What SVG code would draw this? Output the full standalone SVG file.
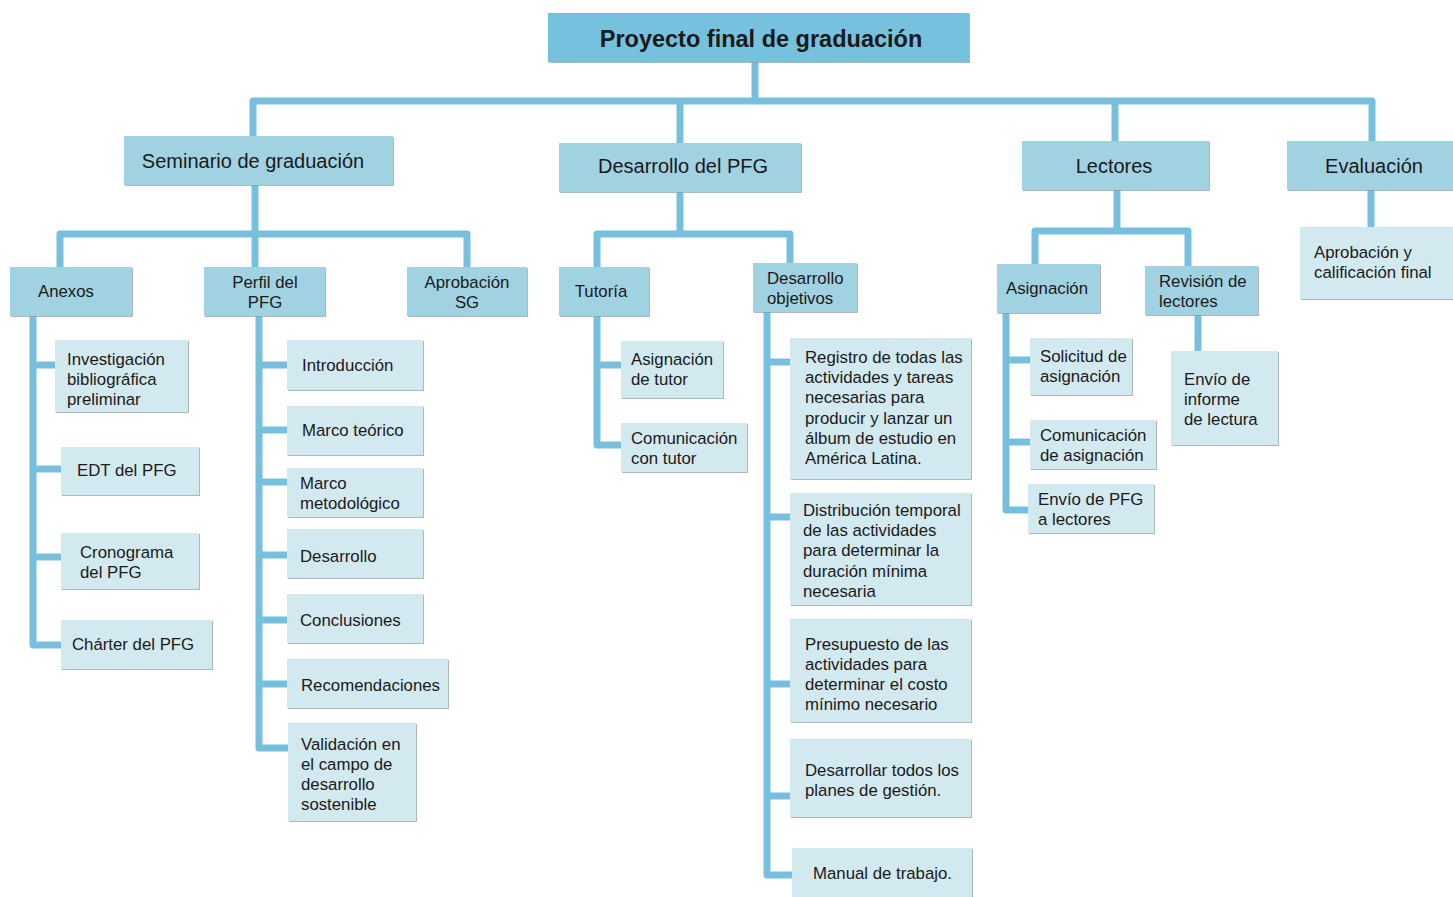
<svg xmlns="http://www.w3.org/2000/svg" width="1453" height="897" viewBox="0 0 1453 897">
  <defs>
    <filter id="shadow" x="-5%" y="-5%" width="115%" height="115%">
      <feDropShadow dx="1" dy="1" stdDeviation="0.6" flood-color="#8a9aa0" flood-opacity="0.7"/>
    </filter>
    <style>
      .root { fill: #76c1de; filter: url(#shadow); }
      .mid { fill: #a1d2e2; filter: url(#shadow); }
      .leaf { fill: #d2e9ef; filter: url(#shadow); }
      text { font-family: "Liberation Sans", Arial, sans-serif; fill: #1a1a1a; }
      .t0 { font-size: 23.5px; font-weight: bold; text-anchor: middle; }
      .t1 { font-size: 20px; text-anchor: middle; }
      .t2 { font-size: 16.8px; }
      .c { text-anchor: middle; }
      .wire { fill: none; stroke: #76c0de; stroke-width: 7; stroke-linejoin: round; stroke-linecap: butt; }
    </style>
  </defs>
  <rect width="1453" height="897" fill="#ffffff"/>

  <!-- connectors -->
  <g id="connectors" class="wire">
    <path d="M755,62 V101"/>
    <path d="M253,136 V101 H1372 V141"/>
    <path d="M680,101 V143"/>
    <path d="M1115,101 V141"/>

    <path d="M255,185 V267"/>
    <path d="M60,267 V234 H467 V267"/>
    <path d="M33,316 V645 H61"/>
    <path d="M33,365 H55 M33,469 H61 M33,557 H61"/>
    <path d="M259,316 V748 H288"/>
    <path d="M259,365 H287 M259,430 H287 M259,482 H287 M259,555 H287 M259,620 H287 M259,684 H287"/>

    <path d="M680,192 V234"/>
    <path d="M597,267 V234 H790 V263"/>
    <path d="M597,316 V445 H621"/>
    <path d="M597,365 H621"/>
    <path d="M767,312 V875 H792"/>
    <path d="M767,362 H790 M767,517 H790 M767,684 H790 M767,796 H790"/>

    <path d="M1117,190 V231"/>
    <path d="M1035,264 V231 H1188 V266"/>
    <path d="M1006,313 V510 H1028"/>
    <path d="M1006,360 H1030 M1006,442 H1030"/>
    <path d="M1198,315 V351"/>
    <path d="M1371,190 V227"/>
  </g>

  <!-- top level -->
  <g id="n-root"><rect class="root" x="548" y="13" width="421" height="49"/><text class="t0" x="761" y="47">Proyecto final de graduación</text></g>

  <!-- second level -->
  <g id="n-seminario"><rect class="mid" x="124" y="136" width="269" height="49"/><text class="t1" x="253" y="168">Seminario de graduación</text></g>
  <g id="n-desarrollo-pfg"><rect class="mid" x="559" y="143" width="242" height="49"/><text class="t1" x="683" y="173">Desarrollo del PFG</text></g>
  <g id="n-lectores"><rect class="mid" x="1022" y="141" width="187" height="49"/><text class="t1" x="1114" y="173">Lectores</text></g>
  <g id="n-evaluacion"><rect class="mid" x="1287" y="141" width="170" height="49"/><text class="t1" x="1374" y="173">Evaluación</text></g>

  <!-- Seminario de graduación -->
  <g id="n-anexos"><rect class="mid" x="10" y="267" width="122" height="49"/><text class="t2 c" x="66" y="297">Anexos</text></g>
  <g id="n-perfil"><rect class="mid" x="204" y="267" width="121" height="49"/><text class="t2 c" x="265" y="288">Perfil del</text><text class="t2 c" x="265" y="308">PFG</text></g>
  <g id="n-aprobacion-sg"><rect class="mid" x="407" y="267" width="120" height="49"/><text class="t2 c" x="467" y="288">Aprobación</text><text class="t2 c" x="467" y="308">SG</text></g>

  <g id="n-investigacion"><rect class="leaf" x="55" y="340" width="133" height="72"/><text class="t2" x="67" y="365">Investigación</text><text class="t2" x="67" y="385">bibliográfica</text><text class="t2" x="67" y="405">preliminar</text></g>
  <g id="n-edt"><rect class="leaf" x="61" y="447" width="138" height="48"/><text class="t2" x="77" y="476">EDT del PFG</text></g>
  <g id="n-cronograma"><rect class="leaf" x="61" y="533" width="138" height="56"/><text class="t2" x="80" y="558">Cronograma</text><text class="t2" x="80" y="578">del PFG</text></g>
  <g id="n-charter"><rect class="leaf" x="61" y="620" width="151" height="49"/><text class="t2" x="72" y="650">Chárter del PFG</text></g>

  <g id="n-introduccion"><rect class="leaf" x="287" y="340" width="136" height="50"/><text class="t2" x="302" y="371">Introducción</text></g>
  <g id="n-marco-teorico"><rect class="leaf" x="287" y="406" width="136" height="49"/><text class="t2" x="302" y="436">Marco teórico</text></g>
  <g id="n-marco-metodologico"><rect class="leaf" x="287" y="468" width="136" height="49"/><text class="t2" x="300" y="489">Marco</text><text class="t2" x="300" y="509">metodológico</text></g>
  <g id="n-desarrollo"><rect class="leaf" x="287" y="529" width="136" height="49"/><text class="t2" x="300" y="562">Desarrollo</text></g>
  <g id="n-conclusiones"><rect class="leaf" x="287" y="594" width="136" height="49"/><text class="t2" x="300" y="626">Conclusiones</text></g>
  <g id="n-recomendaciones"><rect class="leaf" x="287" y="659" width="161" height="49"/><text class="t2" x="301" y="691">Recomendaciones</text></g>
  <g id="n-validacion"><rect class="leaf" x="288" y="723" width="128" height="98"/><text class="t2" x="301" y="750">Validación en</text><text class="t2" x="301" y="770">el campo de</text><text class="t2" x="301" y="790">desarrollo</text><text class="t2" x="301" y="810">sostenible</text></g>

  <!-- Desarrollo del PFG -->
  <g id="n-tutoria"><rect class="mid" x="559" y="267" width="90" height="49"/><text class="t2 c" x="601" y="297">Tutoría</text></g>
  <g id="n-desarrollo-objetivos"><rect class="mid" x="753" y="263" width="104" height="49"/><text class="t2" x="767" y="284">Desarrollo</text><text class="t2" x="767" y="304">objetivos</text></g>

  <g id="n-asignacion-tutor"><rect class="leaf" x="621" y="341" width="102" height="57"/><text class="t2" x="631" y="365">Asignación</text><text class="t2" x="631" y="385">de tutor</text></g>
  <g id="n-comunicacion-tutor"><rect class="leaf" x="621" y="423" width="126" height="49"/><text class="t2" x="631" y="444">Comunicación</text><text class="t2" x="631" y="464">con tutor</text></g>

  <g id="n-registro"><rect class="leaf" x="790" y="338" width="181" height="141"/><text class="t2" x="805" y="363">Registro de todas las</text><text class="t2" x="805" y="383">actividades y tareas</text><text class="t2" x="805" y="403">necesarias para</text><text class="t2" x="805" y="424">producir y lanzar un</text><text class="t2" x="805" y="444">álbum de estudio en</text><text class="t2" x="805" y="464">América Latina.</text></g>
  <g id="n-distribucion"><rect class="leaf" x="790" y="493" width="181" height="112"/><text class="t2" x="803" y="516">Distribución temporal</text><text class="t2" x="803" y="536">de las actividades</text><text class="t2" x="803" y="556">para determinar la</text><text class="t2" x="803" y="577">duración mínima</text><text class="t2" x="803" y="597">necesaria</text></g>
  <g id="n-presupuesto"><rect class="leaf" x="790" y="619" width="181" height="103"/><text class="t2" x="805" y="650">Presupuesto de las</text><text class="t2" x="805" y="670">actividades para</text><text class="t2" x="805" y="690">determinar el costo</text><text class="t2" x="805" y="710">mínimo necesario</text></g>
  <g id="n-planes"><rect class="leaf" x="790" y="739" width="181" height="78"/><text class="t2" x="805" y="776">Desarrollar todos los</text><text class="t2" x="805" y="796">planes de gestión.</text></g>
  <g id="n-manual"><rect class="leaf" x="792" y="848" width="180" height="49"/><text class="t2" x="813" y="879">Manual de trabajo.</text></g>

  <!-- Lectores -->
  <g id="n-asignacion"><rect class="mid" x="997" y="264" width="103" height="49"/><text class="t2 c" x="1047" y="294">Asignación</text></g>
  <g id="n-revision"><rect class="mid" x="1145" y="266" width="113" height="49"/><text class="t2" x="1159" y="287">Revisión de</text><text class="t2" x="1159" y="307">lectores</text></g>

  <g id="n-solicitud"><rect class="leaf" x="1030" y="338" width="102" height="57"/><text class="t2" x="1040" y="362">Solicitud de</text><text class="t2" x="1040" y="382">asignación</text></g>
  <g id="n-comunicacion-asignacion"><rect class="leaf" x="1030" y="420" width="126" height="49"/><text class="t2" x="1040" y="441">Comunicación</text><text class="t2" x="1040" y="461">de asignación</text></g>
  <g id="n-envio-pfg"><rect class="leaf" x="1028" y="484" width="126" height="49"/><text class="t2" x="1038" y="505">Envío de PFG</text><text class="t2" x="1038" y="525">a lectores</text></g>
  <g id="n-envio-informe"><rect class="leaf" x="1171" y="351" width="107" height="94"/><text class="t2" x="1184" y="385">Envío de</text><text class="t2" x="1184" y="405">informe</text><text class="t2" x="1184" y="425">de lectura</text></g>

  <!-- Evaluación -->
  <g id="n-aprobacion-final"><rect class="leaf" x="1300" y="227" width="153" height="72"/><text class="t2" x="1314" y="258">Aprobación y</text><text class="t2" x="1314" y="278">calificación final</text></g>
</svg>
